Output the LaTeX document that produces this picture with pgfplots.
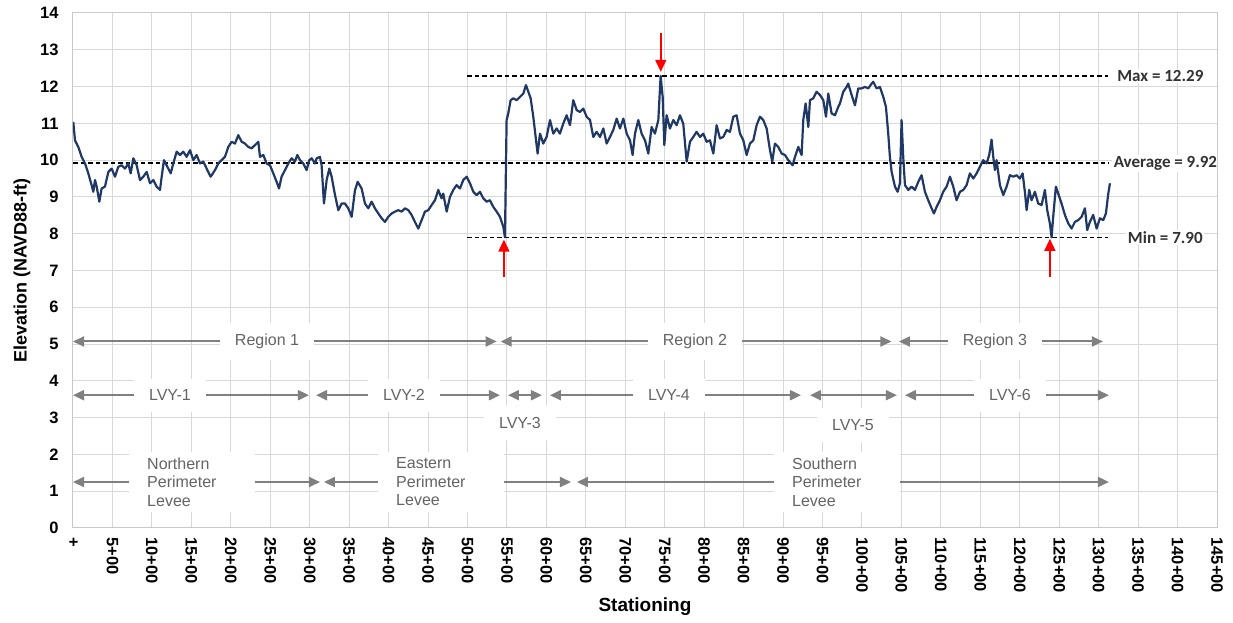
\documentclass[border=0pt]{standalone}
\usepackage{fontspec}
\setmainfont{Liberation Sans}
\newfontfamily\calibri{Carlito}
\usepackage{pgfplots}
\pgfplotsset{compat=1.18}
\usetikzlibrary{arrows.meta}
\definecolor{navy}{RGB}{32,56,100}
\definecolor{gridgray}{RGB}{217,217,217}
\definecolor{framegray}{RGB}{200,200,200}
\definecolor{arrgray}{RGB}{128,128,128}
\definecolor{txtgray}{RGB}{100,100,100}
\definecolor{lblgray}{RGB}{50,50,50}
\begin{document}
\begin{tikzpicture}[
  garrow/.style={arrgray, line width=2pt, {Triangle[length=11pt,width=10pt]}-{Triangle[length=11pt,width=10pt]}},
  lbl/.style={fill=white, text=txtgray, font=\fontsize{16}{19}\selectfont, inner xsep=15pt, inner ysep=11pt},
  plbl/.style={fill=white, text=txtgray, font=\fontsize{16}{18.5}\selectfont, align=left, text width=90pt, inner xsep=18pt, inner ysep=6pt, anchor=west},
  rarrow/.style={red, line width=1.5pt, -{Triangle[length=12pt,width=11pt]}},
  stat/.style={anchor=west, fill=white, inner sep=1.5pt, text=lblgray, font={\calibri\bfseries\fontsize{17}{20}\selectfont}}
]
\begin{axis}[
  at={(73pt,95pt)}, anchor=south west,
  scale only axis, width=1144pt, height=515pt,
  xmin=0, xmax=14500, ymin=0, ymax=14,
  scaled x ticks=false, scaled y ticks=false,
  xtick={0,500,...,14500},
  xticklabels={+,5+00,10+00,15+00,20+00,25+00,30+00,35+00,40+00,45+00,50+00,55+00,60+00,65+00,70+00,75+00,80+00,85+00,90+00,95+00,100+00,105+00,110+00,115+00,120+00,125+00,130+00,135+00,140+00,145+00},
  ytick={0,1,...,14},
  grid=major, grid style={gridgray, line width=1pt},
  axis line style={framegray, line width=1pt},
  major tick length=0pt,
  tick label style={font=\fontsize{16.5}{19}\selectfont\bfseries},
  /pgf/number format/assume math mode=true,
  xticklabel style={rotate=-90, anchor=west},
  xticklabel shift=6pt,
  yticklabel shift=11pt,
  xlabel={Stationing},
  xlabel style={font=\fontsize{19}{22}\selectfont\bfseries, at={(axis description cs:0.5,-0.1534)}, anchor=center},
  ylabel={Elevation (NAVD88-ft)},
  ylabel style={font=\fontsize{18}{21}\selectfont\bfseries, at={(axis description cs:-0.0446,0.5)}, anchor=center},
]
% annotation rows
\draw[garrow] (axis cs:0,5.07) -- (axis cs:5370,5.07);
\draw[garrow] (axis cs:5420,5.07) -- (axis cs:10374,5.07);
\draw[garrow] (axis cs:10469,5.07) -- (axis cs:13054,5.07);
\node[lbl] at (axis cs:2459,5.07) {Region 1};
\node[lbl] at (axis cs:7883,5.07) {Region 2};
\node[lbl] at (axis cs:11685,5.07) {Region 3};
\node[lbl] at (axis cs:5665,2.85) {LVY-3};
\node[lbl] at (axis cs:9886,2.80) {LVY-5};
\draw[garrow] (axis cs:0,3.61) -- (axis cs:2991,3.61);
\draw[garrow] (axis cs:3080,3.61) -- (axis cs:5412,3.61);
\draw[garrow] (axis cs:5513,3.61) -- (axis cs:5944,3.61);
\draw[garrow] (axis cs:6045,3.61) -- (axis cs:9227,3.61);
\draw[garrow] (axis cs:9341,3.61) -- (axis cs:10443,3.61);
\draw[garrow] (axis cs:10545,3.61) -- (axis cs:13130,3.61);
\node[lbl] at (axis cs:1229,3.61) {LVY-1};
\node[lbl] at (axis cs:4195,3.61) {LVY-2};
\node[lbl] at (axis cs:7554,3.61) {LVY-4};
\node[lbl] at (axis cs:11876,3.61) {LVY-6};
\draw[garrow] (axis cs:0,1.25) -- (axis cs:3130,1.25);
\draw[garrow] (axis cs:3181,1.25) -- (axis cs:6312,1.25);
\draw[garrow] (axis cs:6388,1.25) -- (axis cs:13130,1.25);
\node[plbl] at (axis cs:710,1.25) {Northern\\Perimeter\\Levee};
\node[plbl] at (axis cs:3866,1.25) {Eastern\\Perimeter\\Levee};
\node[plbl] at (axis cs:8884,1.25) {Southern\\Perimeter\\Levee};
% reference lines
\addplot[black, line width=1.6pt, dash pattern=on 4.5pt off 3pt] coordinates {(5000,12.29) (13120,12.29)};
\addplot[black, line width=1.6pt, dash pattern=on 4.5pt off 3pt] coordinates {(0,9.92) (13120,9.92)};
\addplot[black, line width=1.6pt, dash pattern=on 4.5pt off 3pt] coordinates {(5000,7.90) (13120,7.90)};
% elevation profile
\addplot[navy, line width=2.2pt, line join=round] coordinates {
(4,11.04)(25,10.54)(67,10.36)(110,10.09)(152,9.91)(194,9.64)(236,9.32)(257,9.14)(279,9.46)(300,9.28)(334,8.87)(363,9.23)(405,9.28)(448,9.68)(490,9.77)(532,9.55)(574,9.82)(617,9.86)(659,9.77)(701,9.91)(731,9.64)(765,10.05)(807,9.86)(849,9.46)(891,9.55)(934,9.68)(976,9.37)(1018,9.46)(1060,9.28)(1103,9.19)(1124,9.55)(1153,10.00)(1196,9.82)(1238,9.64)(1271,9.91)(1314,10.23)(1356,10.14)(1398,10.23)(1440,10.09)(1483,10.27)(1525,10.00)(1567,10.14)(1610,9.91)(1652,9.96)(1694,9.77)(1745,9.55)(1800,9.73)(1842,9.91)(1884,10.00)(1926,10.09)(1969,10.36)(2011,10.50)(2053,10.45)(2095,10.68)(2138,10.50)(2180,10.45)(2222,10.36)(2264,10.32)(2307,10.41)(2349,10.50)(2370,10.09)(2412,10.14)(2454,9.91)(2497,9.86)(2539,9.64)(2581,9.41)(2611,9.23)(2644,9.55)(2687,9.73)(2729,9.91)(2771,10.05)(2813,9.96)(2843,10.14)(2877,10.00)(2919,9.91)(2961,9.73)(2995,10.00)(3025,10.05)(3067,9.91)(3088,10.05)(3130,10.09)(3151,9.86)(3181,8.82)(3215,9.46)(3249,9.77)(3278,9.55)(3321,9.05)(3363,8.64)(3405,8.82)(3447,8.82)(3489,8.69)(3532,8.46)(3574,9.18)(3608,9.41)(3658,9.23)(3701,8.82)(3743,8.69)(3785,8.87)(3827,8.69)(3870,8.55)(3912,8.42)(3954,8.32)(3996,8.46)(4039,8.55)(4081,8.60)(4123,8.64)(4165,8.60)(4208,8.69)(4250,8.64)(4292,8.51)(4334,8.32)(4377,8.14)(4419,8.37)(4461,8.60)(4503,8.64)(4546,8.78)(4588,8.91)(4630,9.19)(4672,8.96)(4693,9.09)(4736,8.60)(4778,9.00)(4820,9.19)(4862,9.32)(4905,9.23)
(4947,9.46)(4989,9.55)(5032,9.37)(5074,9.14)(5116,9.05)(5158,9.14)(5201,8.96)(5243,8.87)(5285,8.91)(5327,8.73)(5370,8.60)(5412,8.46)(5454,8.19)(5475,7.90)(5496,11.09)(5517,11.27)(5547,11.63)(5581,11.68)(5623,11.63)(5665,11.72)(5708,11.81)(5741,12.04)(5771,11.86)(5801,11.68)(5834,11.18)(5864,10.63)(5889,10.18)(5919,10.72)(5961,10.45)(6003,10.63)(6046,11.09)(6088,10.72)(6130,10.86)(6172,10.72)(6215,11.00)(6257,11.22)(6299,10.95)(6341,11.63)(6384,11.36)(6426,11.31)(6468,11.40)(6510,11.18)(6553,11.09)(6595,10.63)(6637,10.77)(6680,10.63)(6722,10.86)(6764,10.45)(6806,10.63)(6848,10.82)(6891,11.13)(6933,10.86)(6975,11.13)(7018,10.72)(7060,10.54)(7093,10.14)(7123,10.72)(7165,11.09)(7207,10.72)(7250,10.54)(7292,10.18)(7334,10.90)(7376,10.72)(7419,11.09)(7448,12.29)(7474,11.72)(7495,10.41)(7524,11.22)(7566,10.86)(7609,11.09)(7651,10.95)(7693,11.22)(7735,10.99)(7778,9.96)(7820,10.50)(7862,10.63)(7904,10.77)(7947,10.63)(7989,10.72)(8031,10.50)(8073,10.54)(8116,10.18)(8158,10.95)(8200,10.59)(8242,10.63)(8285,10.82)(8327,10.77)(8369,11.18)(8411,11.22)(8454,10.72)(8496,10.54)(8538,10.14)(8580,10.45)(8623,10.54)(8665,10.95)(8707,11.18)(8749,11.09)(8792,10.86)(8834,10.27)(8863,9.96)(8897,10.45)(8939,10.36)(8982,10.18)(9024,10.14)(9066,10.00)(9121,9.86)(9151,10.09)(9193,10.36)(9235,10.14)(9256,11.09)(9286,11.54)(9320,10.90)(9341,11.63)(9383,11.68)(9425,11.86)(9468,11.77)(9510,11.63)(9544,11.18)(9573,11.81)(9615,11.27)(9658,11.22)(9700,11.45)(9721,11.54)
(9763,11.86)(9805,11.99)(9826,12.08)(9869,11.77)(9911,11.49)(9953,11.95)(9995,11.95)(10038,11.99)(10080,11.95)(10122,12.08)(10143,12.13)(10185,11.95)(10228,11.99)(10270,11.72)(10304,11.45)(10333,10.72)(10354,10.09)(10376,9.68)(10418,9.28)(10452,9.14)(10481,9.37)(10502,11.09)(10523,10.09)(10545,9.32)(10587,9.19)(10629,9.28)(10671,9.19)(10714,9.41)(10756,9.59)(10798,9.14)(10840,8.91)(10883,8.69)(10912,8.55)(10946,8.73)(10988,8.91)(11030,9.14)(11073,9.28)(11115,9.55)(11157,9.28)(11199,8.91)(11242,9.14)(11284,9.19)(11326,9.32)(11368,9.64)(11411,9.50)(11453,9.64)(11495,9.82)(11537,10.00)(11580,9.91)(11613,10.14)(11643,10.56)(11664,10.09)(11685,9.73)(11706,10.00)(11749,9.32)(11791,9.05)(11833,9.28)(11875,9.59)(11918,9.55)(11960,9.59)(12002,9.50)(12036,9.64)(12065,9.14)(12087,8.64)(12120,9.19)(12150,8.91)(12192,9.14)(12234,8.82)(12277,8.78)(12319,9.19)(12348,8.64)(12382,8.28)(12403,7.90)(12424,8.46)(12458,9.28)(12488,9.09)(12530,8.82)(12572,8.51)(12615,8.28)(12657,8.14)(12699,8.32)(12741,8.37)(12784,8.46)(12826,8.69)(12855,8.10)(12889,8.32)(12931,8.51)(12974,8.14)(13016,8.42)(13058,8.37)(13092,8.55)(13122,9.09)(13143,9.37)
};
% red arrows
\draw[rarrow] (axis cs:7450,13.45) -- (axis cs:7450,12.40);
\draw[rarrow] (axis cs:5462,6.82) -- (axis cs:5462,7.84);
\draw[rarrow] (axis cs:12382,6.82) -- (axis cs:12382,7.86);
% statistics labels
\node[stat] at (axis cs:13215,12.29) {Max = 12.29};
\node[stat] at (axis cs:13170,9.92) {Average = 9.92};
\node[stat] at (axis cs:13350,7.90) {Min = 7.90};
\end{axis}
\pgfresetboundingbox
\path (0,0) rectangle (1233pt,623pt);
\end{tikzpicture}
\end{document}
